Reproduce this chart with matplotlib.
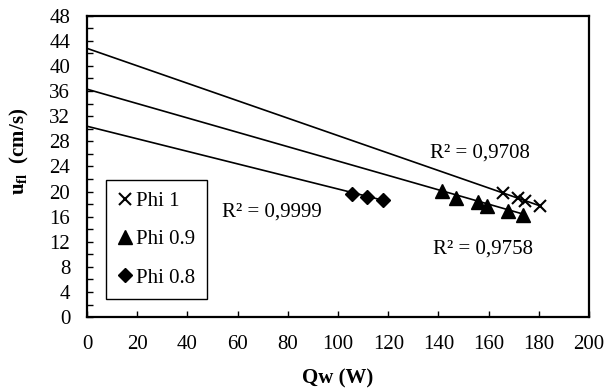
import numpy as np
import matplotlib
matplotlib.use('Agg')
import matplotlib.pyplot as plt

plt.rcParams['font.family'] = ['Liberation Serif', 'DejaVu Serif']
plt.rcParams['mathtext.fontset'] = 'custom'
plt.rcParams['mathtext.rm'] = 'Liberation Serif'
plt.rcParams['mathtext.bf'] = 'Liberation Serif:bold'

# measured points (Qw in W, u_fl in cm/s)
qw_phi1 = [165.7, 171.7, 174.5, 180.3]
u_phi1 = [19.7, 18.9, 18.5, 17.7]

qw_phi09 = [141.4, 147.0, 155.8, 159.4, 167.7, 173.7]
u_phi09 = [20.1, 18.9, 18.3, 17.7, 16.9, 16.2]

qw_phi08 = [105.6, 111.6, 118.0]
u_phi08 = [19.6, 19.1, 18.6]

# linear trendlines (intercept, slope)
trend_intercepts = [42.8, 36.3, 30.4]
trend_slopes = [-0.139, -0.1145, -0.1]
r2_labels = ['R² = 0,9708', 'R² = 0,9758', 'R² = 0,9999']
r2_pos = [(156.6, 26.1), (157.8, 10.8), (73.7, 16.7)]

fig = plt.figure(figsize=(6.08, 3.92), dpi=100)
ax = fig.add_subplot(111)
fig.subplots_adjust(left=0.143, right=0.969, bottom=0.191, top=0.96)

xs_all = [qw_phi1, qw_phi09, qw_phi08]
for b, m, xs in zip(trend_intercepts, trend_slopes, xs_all):
    x_end = max(xs)
    ax.plot([0, x_end], [b, b + m * x_end], color='black', lw=1.2, zorder=2)

ax.plot(qw_phi1, u_phi1, ls='none', marker='x', ms=9, mew=1.5, color='black', label='Phi 1', zorder=3)
ax.plot(qw_phi09, u_phi09, ls='none', marker='^', ms=10, color='black', label='Phi 0.9', zorder=3)
ax.plot(qw_phi08, u_phi08, ls='none', marker='D', ms=7.5, color='black', label='Phi 0.8', zorder=3)

for txt, (tx, ty) in zip(r2_labels, r2_pos):
    ax.text(tx, ty, txt, fontsize=15, ha='center', va='center')

ax.set_xlim(0, 200)
ax.set_ylim(0, 48)
ax.set_xticks(np.arange(0, 201, 20))
ax.set_yticks(np.arange(0, 49, 4))
ax.set_yticks(np.arange(0, 49, 2), minor=True)
ax.tick_params(which='both', direction='in', labelsize=15, width=1, color='black')
ax.tick_params(which='major', length=4)
ax.tick_params(which='minor', length=4)
ax.tick_params(axis='x', pad=13)
ax.tick_params(axis='y', pad=12)
for s in ax.spines.values():
    s.set_linewidth(1.6)

ax.set_xlabel('Qw (W)', fontsize=15, fontweight='bold', labelpad=10)
ax.set_ylabel(r'$\mathbf{u_{fl}}$  (cm/s)', fontsize=15, fontweight='bold')
ax.yaxis.set_label_coords(-0.112, 0.55)

leg = ax.legend(loc='lower left', bbox_to_anchor=(0.038, 0.06), fontsize=15,
                frameon=True, fancybox=False, edgecolor='black', framealpha=1,
                borderaxespad=0, handlelength=0.7, handletextpad=0.2,
                borderpad=0.55, labelspacing=0.9, numpoints=1)
leg.get_frame().set_linewidth(1.0)

fig.savefig('out.png', dpi=100)
